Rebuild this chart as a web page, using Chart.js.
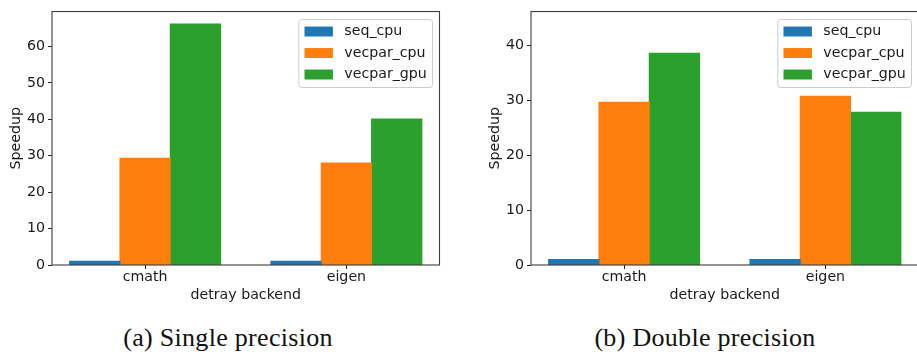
<!DOCTYPE html>
<html>
<head>
<meta charset="utf-8">
<script src="https://cdn.jsdelivr.net/npm/chart.js@4/dist/chart.umd.min.js"></script>
<style>
body { margin: 0; width: 917px; height: 356px; overflow: hidden; background: #fff; position: relative; }
.panel { position: absolute; top: 0; }
.caption {
    position: absolute; top: 325px; line-height: 1; white-space: nowrap;
    font-family: "Liberation Serif", serif; font-size: 26px; letter-spacing: 0.3px;
    color: #111; transform: translateX(-50%);
}
</style>
</head>
<body>
<div class="panel" style="left:0"><canvas id="single" width="459" height="310"></canvas></div>
<div class="panel" style="left:460px"><canvas id="double" width="460" height="310"></canvas></div>
<div class="caption" style="left:228px">(a) Single precision</div>
<div class="caption" style="left:705px">(b) Double precision</div>
<script>
const backends = ['cmath', 'eigen'];
const seriesNames = ['seq_cpu', 'vecpar_cpu', 'vecpar_gpu'];
const seriesColors = ['#1f77b4', '#ff7f0e', '#2ca02c'];

// speedup, single precision
const singleSeq = [1.0, 1.0];
const singleVecparCpu = [29.3, 28.0];
const singleVecparGpu = [66.2, 40.1];

// speedup, double precision
const doubleSeq = [1.0, 1.0];
const doubleVecparCpu = [29.6, 30.7];
const doubleVecparGpu = [38.5, 27.8];

const singleTicks = [0, 10, 20, 30, 40, 50, 60];
const doubleTicks = [0, 10, 20, 30, 40];
const singleMax = 69.6;
const doubleMax = 46.1;

const font = { family: '"DejaVu Sans"', size: 14.2 };
const textColor = '#1a1a1a';

const framePlugin = {
    id: 'frame',
    afterDatasetsDraw(chart) {
        const { ctx, chartArea: a } = chart;
        ctx.save();
        ctx.strokeStyle = '#3c3c3c';
        ctx.lineWidth = 1.1;
        ctx.strokeRect(a.left, a.top, a.right - a.left, a.bottom - a.top);
        ctx.restore();
    }
};

// matplotlib-like legend box in the upper right corner
const legendPlugin = {
    id: 'boxLegend',
    afterDraw(chart) {
        const { ctx, chartArea: a } = chart;
        const fs = font.size;
        ctx.save();
        ctx.font = fs + 'px "DejaVu Sans"';
        const sets = chart.data.datasets;
        const textW = Math.max(...sets.map(d => ctx.measureText(d.label).width));
        const pad = 0.4 * fs, hl = 2 * fs, hh = 0.7 * fs, gap = 0.8 * fs, rowH = 21.5;
        const w = pad + hl + gap + textW + pad, h = 68;
        const x = a.right - 7 - w, y = a.top + 8;
        ctx.beginPath();
        ctx.roundRect(x, y, w, h, 3);
        ctx.fillStyle = 'rgba(255,255,255,0.8)';
        ctx.fill();
        ctx.strokeStyle = '#cccccc';
        ctx.lineWidth = 1;
        ctx.stroke();
        ctx.textBaseline = 'middle';
        sets.forEach((d, i) => {
            const cy = y + 12 + i * rowH;
            ctx.fillStyle = d.backgroundColor;
            ctx.fillRect(x + pad, cy - hh / 2, hl, hh);
            ctx.fillStyle = textColor;
            ctx.fillText(d.label, x + pad + hl + gap, cy);
        });
        ctx.restore();
    }
};

function makeChart(id, series, ticks, yMax, opts) {
    new Chart(document.getElementById(id), {
        type: 'bar',
        data: {
            datasets: series.map((vals, i) => ({
                label: seriesNames[i],
                backgroundColor: seriesColors[i],
                data: vals.map((v, j) => ({ x: j, y: v })),
                categoryPercentage: 0.75,
                barPercentage: 1,
                borderWidth: 0,
                inflateAmount: 0.5
            }))
        },
        options: {
            responsive: false,
            animation: false,
            devicePixelRatio: 1,
            layout: { padding: opts.padding },
            plugins: { legend: { display: false }, tooltip: { enabled: false } },
            scales: {
                x: {
                    type: 'linear',
                    min: -0.4625,
                    max: 1.4625,
                    offset: false,
                    afterBuildTicks: s => { s.ticks = backends.map((_, i) => ({ value: i })); },
                    afterFit: s => { s.height = 45; },
                    ticks: { callback: v => backends[v], font, color: textColor, padding: 0, autoSkip: false, maxRotation: 0 },
                    grid: { drawOnChartArea: false, drawTicks: true, tickLength: 4, tickColor: '#222', offset: false },
                    border: { display: false },
                    title: { display: true, text: 'detray backend', font, color: textColor, padding: { top: 0, bottom: 6.5 } }
                },
                y: {
                    min: 0,
                    max: yMax,
                    afterBuildTicks: s => { s.ticks = ticks.map(v => ({ value: v })); },
                    afterFit: s => { s.width = opts.yWidth; },
                    ticks: { font, color: textColor, padding: 3 },
                    grid: { drawOnChartArea: false, drawTicks: true, tickLength: 4, tickColor: '#222' },
                    border: { display: false },
                    title: { display: true, text: 'Speedup', font, color: textColor, padding: { top: opts.titlePad, bottom: 0 } }
                }
            }
        },
        plugins: [framePlugin, legendPlugin]
    });
}

makeChart('single', [singleSeq, singleVecparCpu, singleVecparGpu], singleTicks, singleMax,
    { padding: { top: 6, right: 19.5, left: 0, bottom: 0 }, yWidth: 52, titlePad: 7.5 });
makeChart('double', [doubleSeq, doubleVecparCpu, doubleVecparGpu], doubleTicks, doubleMax,
    { padding: { top: 6, right: 1.5, left: 0, bottom: 0 }, yWidth: 71, titlePad: 26.5 });
</script>
</body>
</html>
